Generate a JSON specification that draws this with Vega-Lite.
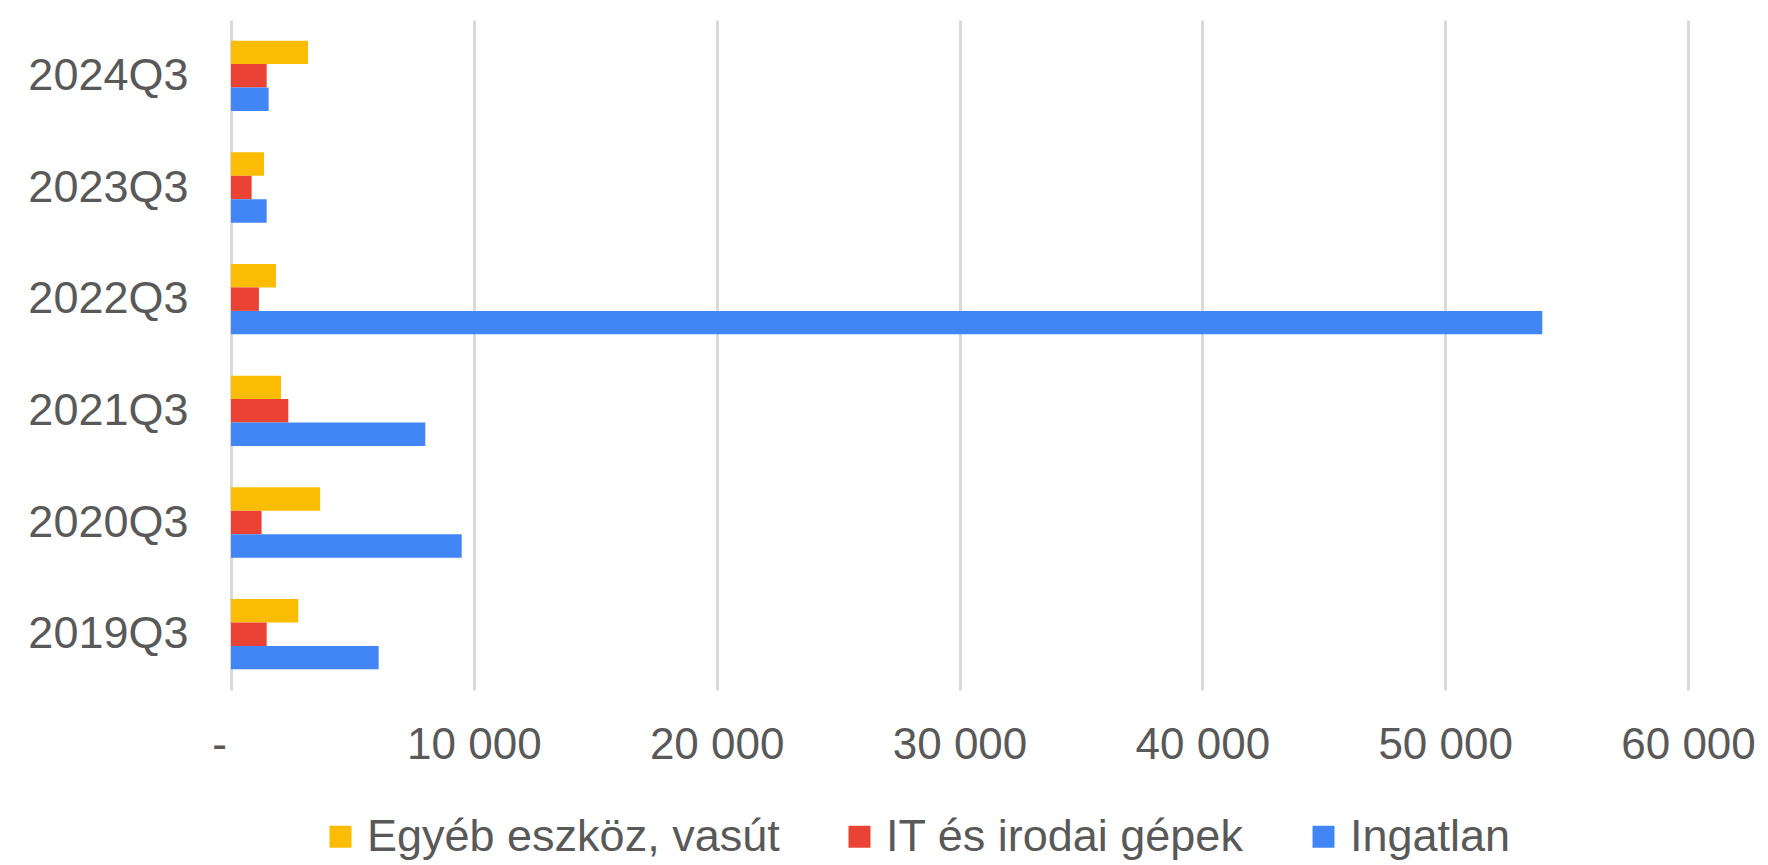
{
  "$schema": "https://vega.github.io/schema/vega-lite/v6.json",
  "width": 1457,
  "height": 670,
  "autosize": {"type": "none"},
  "padding": {"left": 231, "top": 20, "right": 80, "bottom": 175},
  "background": "white",
  "data": {
    "values": [
      {"period": "2024Q3", "series": "Egyéb eszköz, vasút", "value": 3170},
      {"period": "2024Q3", "series": "IT és irodai gépek", "value": 1470},
      {"period": "2024Q3", "series": "Ingatlan", "value": 1550},
      {"period": "2023Q3", "series": "Egyéb eszköz, vasút", "value": 1360},
      {"period": "2023Q3", "series": "IT és irodai gépek", "value": 850},
      {"period": "2023Q3", "series": "Ingatlan", "value": 1470},
      {"period": "2022Q3", "series": "Egyéb eszköz, vasút", "value": 1850},
      {"period": "2022Q3", "series": "IT és irodai gépek", "value": 1150},
      {"period": "2022Q3", "series": "Ingatlan", "value": 54000},
      {"period": "2021Q3", "series": "Egyéb eszköz, vasút", "value": 2060},
      {"period": "2021Q3", "series": "IT és irodai gépek", "value": 2360},
      {"period": "2021Q3", "series": "Ingatlan", "value": 8000},
      {"period": "2020Q3", "series": "Egyéb eszköz, vasút", "value": 3670},
      {"period": "2020Q3", "series": "IT és irodai gépek", "value": 1260},
      {"period": "2020Q3", "series": "Ingatlan", "value": 9500},
      {"period": "2019Q3", "series": "Egyéb eszköz, vasút", "value": 2770},
      {"period": "2019Q3", "series": "IT és irodai gépek", "value": 1470},
      {"period": "2019Q3", "series": "Ingatlan", "value": 6080}
    ]
  },
  "mark": {"type": "bar"},
  "encoding": {
    "y": {
      "field": "period",
      "type": "nominal",
      "sort": ["2024Q3", "2023Q3", "2022Q3", "2021Q3", "2020Q3", "2019Q3"],
      "scale": {"paddingInner": 0.37, "paddingOuter": 0.185},
      "axis": {
        "title": null,
        "domain": false,
        "ticks": false,
        "grid": false,
        "labelFont": "Liberation Sans",
        "labelFontSize": 45,
        "labelColor": "#595959",
        "labelPadding": 43,
        "labelLimit": 0
      }
    },
    "yOffset": {
      "field": "series",
      "sort": ["Egyéb eszköz, vasút", "IT és irodai gépek", "Ingatlan"]
    },
    "x": {
      "field": "value",
      "type": "quantitative",
      "scale": {"domain": [0, 60000], "nice": false},
      "axis": {
        "title": null,
        "values": [0, 10000, 20000, 30000, 40000, 50000, 60000],
        "labelExpr": "datum.value === 0 ? '-' : replace(format(datum.value, ','), ',', ' ')",
        "domain": false,
        "ticks": false,
        "grid": true,
        "gridColor": "#d9d9d9",
        "gridWidth": 3,
        "labelFont": "Liberation Sans",
        "labelFontSize": 44,
        "labelColor": "#595959",
        "labelPadding": 33,
        "labelOffset": {"condition": {"test": "datum.value === 0", "value": -12}, "value": 0},
        "labelFlush": false,
        "labelOverlap": false
      }
    },
    "color": {
      "field": "series",
      "type": "nominal",
      "scale": {
        "domain": ["Egyéb eszköz, vasút", "IT és irodai gépek", "Ingatlan"],
        "range": ["#FBBC04", "#EA4335", "#4285F4"]
      },
      "legend": {
        "orient": "none",
        "legendX": 87,
        "legendY": 794,
        "direction": "horizontal",
        "title": null,
        "symbolType": "square",
        "symbolSize": 484,
        "symbolStrokeWidth": 0,
        "symbolOpacity": 1,
        "labelFont": "Liberation Sans",
        "labelFontSize": 45,
        "labelColor": "#595959",
        "labelOffset": 4,
        "columnPadding": 57,
        "padding": 0,
        "labelLimit": 0
      }
    }
  },
  "config": {"view": {"stroke": null}}
}
